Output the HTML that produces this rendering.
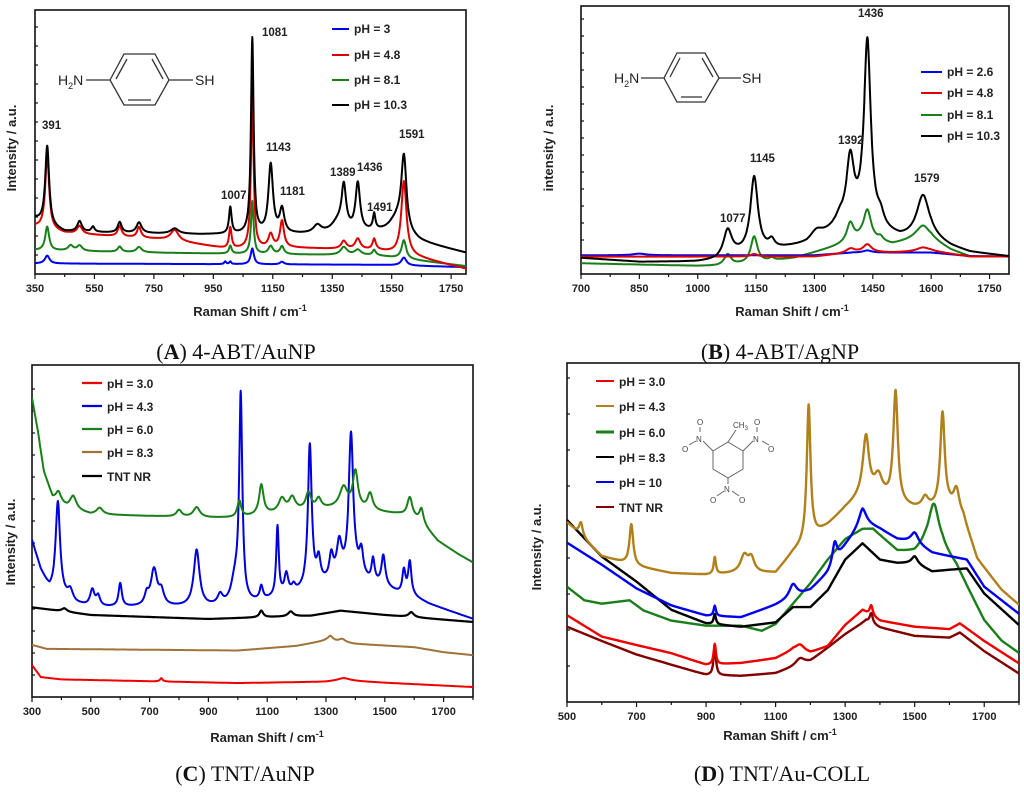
<!DOCTYPE html>
<html><head><meta charset="utf-8"><style>
html,body{margin:0;padding:0;background:#fff}
svg{display:block}
text{font-family:"Liberation Sans",sans-serif}
.tk{font-size:11px;font-weight:bold;fill:#222}
.ax{font-size:13px;font-weight:bold;fill:#222}
.lg{font-size:12px;font-weight:bold;fill:#222}
.pk{font-size:11.5px;font-weight:bold;fill:#222}
.cap{font-family:"Liberation Serif",serif;font-size:22px;fill:#111}
.mol{font-size:14px;fill:#222}
.mols{font-size:8px;fill:#444}
</style></head><body>
<svg id="fig" width="1024" height="794" viewBox="0 0 1024 794" xmlns="http://www.w3.org/2000/svg">
<defs>
<clipPath id="cA"><rect x="35" y="10" width="431" height="264"/></clipPath>
<clipPath id="cB"><rect x="581" y="6" width="428" height="268"/></clipPath>
<clipPath id="cC"><rect x="32" y="365" width="441" height="332"/></clipPath>
<clipPath id="cD"><rect x="567" y="363" width="452" height="339"/></clipPath>
</defs>
<g id="layer"></g>

<g>
<line x1="332" y1="29" x2="349" y2="29" stroke="#0000ee" stroke-width="2"/><text class="lg" x="354" y="33">pH = 3</text>
<line x1="332" y1="55" x2="349" y2="55" stroke="#dd0000" stroke-width="2"/><text class="lg" x="354" y="59">pH = 4.8</text>
<line x1="332" y1="80" x2="349" y2="80" stroke="#1a7f1a" stroke-width="2"/><text class="lg" x="354" y="84">pH = 8.1</text>
<line x1="332" y1="105" x2="349" y2="105" stroke="#000" stroke-width="2"/><text class="lg" x="354" y="109">pH = 10.3</text>
</g>
<g>
<text class="pk" x="42" y="129">391</text><text class="pk" x="262" y="36">1081</text>
<text class="pk" x="266" y="151">1143</text><text class="pk" x="280" y="195">1181</text>
<text class="pk" x="221" y="199">1007</text><text class="pk" x="330" y="176">1389</text>
<text class="pk" x="357" y="171">1436</text><text class="pk" x="367" y="211">1491</text>
<text class="pk" x="399" y="138">1591</text>
</g>
<g stroke="#333" stroke-width="1.3" fill="none">
<polygon points="110,80 124,54 155,54 169,80 155,105 124,105"/>
<line x1="116" y1="79" x2="127" y2="59"/><line x1="152" y1="59" x2="163" y2="79"/><line x1="128" y1="100" x2="151" y2="100"/>
<line x1="86" y1="80" x2="110" y2="80"/><line x1="169" y1="80" x2="193" y2="80"/>
<text class="mol" x="58" y="85" stroke="none" fill="#222">H<tspan font-size="9" dy="4">2</tspan><tspan dy="-4">N</tspan></text>
<text class="mol" x="195" y="85" stroke="none" fill="#222">SH</text>
</g>
<text class="ax" transform="translate(16,148) rotate(-90)" text-anchor="middle">Intensity / a.u.</text>
<text class="ax" x="250" y="316" text-anchor="middle">Raman Shift / cm<tspan font-size="9" dy="-5">-1</tspan></text>
<text class="cap" x="236" y="359" text-anchor="middle">(<tspan font-weight="bold">A</tspan>) 4-ABT/AuNP</text>

<g>
<line x1="921" y1="72" x2="942" y2="72" stroke="#0000ee" stroke-width="2"/><text class="lg" x="947" y="76">pH = 2.6</text>
<line x1="921" y1="93" x2="942" y2="93" stroke="#dd0000" stroke-width="2"/><text class="lg" x="947" y="97">pH = 4.8</text>
<line x1="921" y1="115" x2="942" y2="115" stroke="#1a7f1a" stroke-width="2"/><text class="lg" x="947" y="119">pH = 8.1</text>
<line x1="921" y1="136" x2="942" y2="136" stroke="#000" stroke-width="2"/><text class="lg" x="947" y="140">pH = 10.3</text>
</g>
<g>
<text class="pk" x="720" y="222">1077</text><text class="pk" x="750" y="162">1145</text>
<text class="pk" x="838" y="144">1392</text><text class="pk" x="858" y="17">1436</text>
<text class="pk" x="914" y="182">1579</text>
</g>
<g stroke="#333" stroke-width="1.3" fill="none">
<polygon points="664,78 677,53 705,53 719,78 705,102 677,102"/>
<line x1="670" y1="77" x2="680" y2="58"/><line x1="702" y1="58" x2="713" y2="77"/><line x1="681" y1="97" x2="702" y2="97"/>
<line x1="641" y1="78" x2="664" y2="78"/><line x1="719" y1="78" x2="741" y2="78"/>
<text class="mol" x="614" y="83" stroke="none" fill="#222">H<tspan font-size="9" dy="4">2</tspan><tspan dy="-4">N</tspan></text>
<text class="mol" x="742" y="83" stroke="none" fill="#222">SH</text>
</g>
<text class="ax" transform="translate(553,148) rotate(-90)" text-anchor="middle">intensity / a.u.</text>
<text class="ax" x="792" y="316" text-anchor="middle">Raman Shift / cm<tspan font-size="9" dy="-5">-1</tspan></text>
<text class="cap" x="780" y="359" text-anchor="middle">(<tspan font-weight="bold">B</tspan>) 4-ABT/AgNP</text>

<g>
<line x1="82" y1="383" x2="102" y2="383" stroke="#ee0000" stroke-width="2.2"/><text class="lg" font-size="13" x="107" y="388">pH = 3.0</text>
<line x1="82" y1="406" x2="102" y2="406" stroke="#0000dd" stroke-width="2.2"/><text class="lg" x="107" y="411" font-size="13">pH = 4.3</text>
<line x1="82" y1="429" x2="102" y2="429" stroke="#1a7f1a" stroke-width="2.2"/><text class="lg" x="107" y="434" font-size="13">pH = 6.0</text>
<line x1="82" y1="452" x2="102" y2="452" stroke="#a0723c" stroke-width="2.2"/><text class="lg" x="107" y="457" font-size="13">pH = 8.3</text>
<line x1="82" y1="476" x2="102" y2="476" stroke="#000" stroke-width="2.2"/><text class="lg" x="107" y="481" font-size="13">TNT NR</text>
</g>
<text class="ax" transform="translate(15,542) rotate(-90)" text-anchor="middle" font-size="14">Intensity / a.u.</text>
<text class="ax" x="267" y="742" text-anchor="middle">Raman Shift / cm<tspan font-size="9" dy="-5">-1</tspan></text>
<text class="cap" x="245" y="781" text-anchor="middle">(<tspan font-weight="bold">C</tspan>) TNT/AuNP</text>

<g>
<line x1="596" y1="381" x2="614" y2="381" stroke="#ee0000" stroke-width="2"/><text class="lg" x="619" y="386" font-size="13">pH = 3.0</text>
<line x1="596" y1="406" x2="614" y2="406" stroke="#b0801c" stroke-width="2"/><text class="lg" x="619" y="411" font-size="13">pH = 4.3</text>
<line x1="596" y1="432" x2="614" y2="432" stroke="#1a7f1a" stroke-width="3"/><text class="lg" x="619" y="437" font-size="13">pH = 6.0</text>
<line x1="596" y1="457" x2="614" y2="457" stroke="#000" stroke-width="2"/><text class="lg" x="619" y="462" font-size="13">pH = 8.3</text>
<line x1="596" y1="482" x2="614" y2="482" stroke="#0000ee" stroke-width="2"/><text class="lg" x="619" y="487" font-size="13">pH = 10</text>
<line x1="596" y1="507" x2="614" y2="507" stroke="#800000" stroke-width="2"/><text class="lg" x="619" y="512" font-size="13">TNT NR</text>
</g>
<g stroke="#666" stroke-width="1" fill="none">
<polygon points="728,442 743,451 743,469 728,478 713,469 713,451"/>
<line x1="728" y1="442" x2="736" y2="430"/>
<line x1="713" y1="451" x2="703" y2="441"/><line x1="743" y1="451" x2="753" y2="441"/><line x1="728" y1="478" x2="728" y2="484"/>
<line x1="700" y1="432" x2="700" y2="427"/><line x1="696" y1="441" x2="689" y2="445"/>
<line x1="757" y1="432" x2="757" y2="427"/><line x1="762" y1="441" x2="769" y2="445"/>
<line x1="724" y1="491" x2="717" y2="496"/><line x1="732" y1="491" x2="739" y2="496"/>
<g stroke="none" fill="#444">
<text x="696" y="442" class="mols" font-size="9">N</text><text x="753" y="442" class="mols" font-size="9">N</text><text x="724" y="492" class="mols" font-size="9">N</text>
<text x="697" y="425" class="mols" font-size="9">O</text><text x="682" y="452" class="mols" font-size="9">O</text>
<text x="754" y="425" class="mols" font-size="9">O</text><text x="768" y="452" class="mols" font-size="9">O</text>
<text x="710" y="503" class="mols" font-size="9">O</text><text x="739" y="503" class="mols" font-size="9">O</text>
<text x="733" y="428" class="mols" font-size="9">CH<tspan font-size="6" dy="2">3</tspan></text>
</g>
</g>
<text class="ax" transform="translate(541,547) rotate(-90)" text-anchor="middle" font-size="14">Intensity / a.u.</text>
<text class="ax" x="780" y="740" text-anchor="middle">Raman Shift / cm<tspan font-size="9" dy="-5">-1</tspan></text>
<text class="cap" x="782" y="781" text-anchor="middle">(<tspan font-weight="bold">D</tspan>) TNT/Au-COLL</text>
</svg>
<script>
// Panel A
const aBlueBase=[[350,4],[1500,3.5],[1800,2.6]];
const aBluePeaks=[[391,3,7],[990,1,3],[1007,1,3],[1081,6,5],[1181,1,6],[1591,3,8]];
const aRedBase=[[350,18],[450,15.5],[800,13],[1000,9.5],[1200,10],[1500,9],[1650,6],[1800,2]];
const aRedPeaks=[[391,28,6],[500,3,8],[635,4,6],[700,4,6],[820,4,12],[1007,8,4],[1081,58,4],[1143,5,7],[1181,10,6],[1389,3,8],[1436,4,8],[1491,4,5],[1591,28,8]];
const aGreenBase=[[350,9],[800,8],[1500,7],[1650,5],[1800,3]];
const aGreenPeaks=[[391,9,6],[470,2,8],[500,2,8],[635,2,6],[700,2,8],[1007,3,4],[1081,20,4],[1143,3,7],[1181,3,6],[1389,3,10],[1436,2,10],[1491,2,5],[1591,7,7]];
const aBlackBase=[[350,21],[400,18],[450,16],[900,15],[1300,15],[1550,16],[1650,12],[1800,8]];
const aBlackPeaks=[[391,30,6],[500,4,7],[545,2,5],[635,4,6],[700,4,8],[820,2,12],[1007,10,4],[1081,74,4],[1143,26,7],[1181,9,7],[1300,3,12],[1370,4,20],[1389,16,7],[1436,18,7],[1491,6,4],[1591,28,8],[1570,5,20]];
// Panel B
const bBlueBase=[[700,7],[1300,7],[1400,8],[1600,8],[1700,6.7],[1800,6.5]];
const bBluePeaks=[[850,0.6,15],[1436,0.8,10]];
const bRedBase=[[700,6.5],[1300,6.5],[1400,8],[1500,8],[1600,8.5],[1700,6.5],[1800,6.5]];
const bRedPeaks=[[1145,1,8],[1392,1.5,10],[1436,3,10],[1579,1.5,15]];
const bGreenBase=[[700,4],[1000,3],[1050,3],[1150,4],[1250,6],[1300,8],[1350,10],[1420,13],[1500,11],[1560,13],[1600,13],[1650,9],[1700,6.5],[1800,6.5]];
const bGreenPeaks=[[1077,4,8],[1145,10,8],[1190,1,6],[1392,7,8],[1436,11,9],[1470,1.5,6],[1579,5,15]];
const bBlackBase=[[700,6],[850,4.5],[1000,4.5],[1050,5],[1100,7],[1200,9],[1280,11],[1350,16],[1420,19],[1480,15],[1520,13],[1600,13],[1650,10],[1700,8],[1800,6.5]];
const bBlackPeaks=[[1077,10,10],[1145,28,9],[1190,3,7],[1305,3,14],[1365,3,10],[1392,24,9],[1436,68,8],[1470,4,8],[1579,16,15]];
// Panel C
const cRedBase=[[300,9.6],[330,6],[400,5.3],[1000,4.2],[1300,4.6],[1360,5],[1500,4.3],[1800,3]];
const cRedPeaks=[[740,1,4],[1360,0.7,20]];
const cBrownBase=[[300,15.7],[350,14.5],[1000,14],[1200,15.4],[1300,17],[1400,16],[1600,15],[1700,13.5],[1800,12.6]];
const cBrownPeaks=[[1315,1.5,8],[1355,1,10]];
const cBlackBase=[[300,27],[500,24.7],[900,23.5],[1250,24.5],[1350,26],[1500,24.7],[1800,22.6]];
const cBlackPeaks=[[410,1,8],[1080,2,6],[1180,1.5,8],[1590,1.5,8]];
const cBlueBase=[[300,47],[330,38],[360,32],[450,28],[500,27],[1000,27],[1100,29],[1200,31],[1300,34],[1400,37],[1450,34],[1500,33],[1550,31],[1600,30],[1650,28],[1800,23.5]];
const cBluePeaks=[[388,28,7],[430,3,8],[505,5,7],[525,3,6],[600,7,5],[690,3,6],[715,11,10],[740,4,8],[860,17,9],[940,3,8],[990,7,12],[1010,62,5],[1080,4,5],[1135,21,4],[1165,6,6],[1190,2,6],[1245,43,6],[1275,7,6],[1318,7,6],[1345,10,8],[1385,42,7],[1420,7,6],[1460,7,5],[1495,9,6],[1565,7,5],[1585,10,5]];
const cGreenBase=[[300,90],[320,80],[340,68],[370,60],[420,57],[500,55],[900,54],[1000,54],[1100,55],[1200,56],[1350,57],[1450,56],[1550,55],[1620,53],[1680,47],[1750,43],[1800,40.5]];
const cGreenPeaks=[[390,3,8],[440,4,10],[530,2,10],[800,2,8],[860,3,10],[1005,5,6],[1080,9,7],[1150,4,10],[1185,4,10],[1240,5,8],[1275,3,8],[1360,6,12],[1400,11,8],[1450,5,8],[1585,6,8],[1625,4,6]];
// Panel D
const dDarkRedBase=[[500,22.2],[600,18],[700,14],[800,11],[900,8],[1000,7.7],[1100,8.5],[1200,12],[1300,20],[1360,24],[1400,22],[1500,19.5],[1600,19],[1630,20.5],[1700,15],[1800,8.4]];
const dDarkRedPeaks=[[925,9,3],[1170,2,12],[1375,3,4]];
const dRedBase=[[500,25.6],[600,19.3],[700,16.8],[800,14.4],[900,11],[1000,11.5],[1100,12.9],[1150,15.3],[1200,14.5],[1250,16.5],[1300,22.7],[1350,27.1],[1400,24],[1500,22.2],[1600,21.5],[1630,23.2],[1700,18],[1800,11.4]];
const dRedPeaks=[[925,6,3],[1170,2,12],[1375,3,4]];
const dGreenBase=[[500,34],[550,30],[600,29],[680,30],[720,27],[800,24],[900,22.5],[1000,22.5],[1060,21],[1100,23],[1150,29],[1200,35],[1250,42],[1300,48],[1350,51],[1380,51],[1450,44.5],[1500,44],[1530,46],[1580,45],[1620,40],[1650,34],[1700,24],[1750,18],[1800,14.4]];
const dGreenPeaks=[[1555,13,14]];
const dBlackBase=[[500,53.7],[600,42.9],[700,35.5],[800,27.2],[900,23.2],[1000,22.2],[1100,23.5],[1150,28],[1200,28],[1250,33],[1300,42],[1350,46.8],[1400,42],[1450,41],[1500,41],[1550,38.5],[1600,39],[1650,39.4],[1700,32],[1800,22.7]];
const dBlackPeaks=[[925,3,3],[1500,2,8]];
const dBlueBase=[[500,47],[600,40.5],[700,33.5],[800,28.5],[900,25.5],[1000,25],[1100,28.6],[1200,33],[1250,38],[1300,46],[1350,53],[1400,51],[1450,48],[1500,47],[1550,44],[1600,43],[1650,42],[1700,34],[1800,26]];
const dBluePeaks=[[925,3,3],[1150,4,10],[1270,6,6],[1350,4,10],[1500,3,10]];
const dGoldBase=[[500,53],[550,48],[600,43],[700,40],[800,38],[900,37.5],[1000,38],[1100,38],[1150,44],[1200,48],[1250,52],[1300,57],[1350,61],[1400,61],[1450,58],[1500,57],[1550,57],[1600,57],[1640,54],[1680,42],[1750,33],[1800,28.6]];
const dGoldPeaks=[[540,4,5],[685,12,5],[925,5,3],[1010,5,10],[1030,4,8],[1195,40,5],[1360,17,8],[1395,5,10],[1445,33,6],[1530,3,8],[1580,28,6],[1620,7,8]];
// tick labels
const aTicks=[350,550,750,950,1150,1350,1550,1750];
const bTicks=[700,850,1000,1150,1300,1450,1600,1750];
const cTicks=[300,500,700,900,1100,1300,1500,1700];
const dTicks=[500,700,900,1100,1300,1500,1700];

const NS="http://www.w3.org/2000/svg";
const layer=document.getElementById('layer');
function mk(tag,attrs,parent){const e=document.createElementNS(NS,tag);for(const k in attrs)e.setAttribute(k,attrs[k]);(parent||layer).appendChild(e);return e;}
function interp(base,x){
  if(x<=base[0][0])return base[0][1];
  for(let i=1;i<base.length;i++){if(x<=base[i][0]){const a=base[i-1],b=base[i];return a[1]+(b[1]-a[1])*(x-a[0])/(b[0]-a[0]);}}
  return base[base.length-1][1];
}
function panel(P){
  P.sx=v=>P.x0+(v-P.xmin)/(P.xmax-P.xmin)*(P.x1-P.x0);
  P.sy=v=>P.y1-(v/100)*(P.y1-P.y0);
  return P;
}
const PA=panel({x0:35,x1:466,y0:10,y1:274,xmin:350,xmax:1800,clip:'cA'});
const PB=panel({x0:581,x1:1009,y0:6,y1:274,xmin:700,xmax:1800,clip:'cB'});
const PC=panel({x0:32,x1:473,y0:365,y1:697,xmin:300,xmax:1800,clip:'cC'});
const PD=panel({x0:567,x1:1019,y0:363,y1:702,xmin:500,xmax:1800,clip:'cD'});
const WF=1.3;
function series(P,base,peaks,color,w,name){
  let d='';
  for(let x=P.xmin;x<=P.xmax;x+=1){
    let y=interp(base,x);
    for(const p of peaks){y+=p[1]/(1+((x-p[0])/(p[2]*WF))**2);}
    d+=(x===P.xmin?'M':'L')+P.sx(x).toFixed(1)+' '+P.sy(y).toFixed(1);
  }
  const e=mk('path',{d:d,fill:'none',stroke:color,'stroke-width':w,'clip-path':'url(#'+P.clip+')','stroke-linejoin':'round'});
  
  
}
function axes(P,ticks,minorStep,yStep,name){
  const f=mk('rect',{x:P.x0,y:P.y0,width:P.x1-P.x0,height:P.y1-P.y0,fill:'none',stroke:'#111','stroke-width':1.6});
  
  
  for(let v=P.xmin;v<=P.xmax;v+=minorStep){
    const major=ticks.indexOf(v)>=0;
    const t=mk('line',{x1:P.sx(v),x2:P.sx(v),y1:P.y1,y2:P.y1+(major?5:3),stroke:'#111','stroke-width':1.2});
    
    
  }
  for(const v of ticks){
    const l=mk('text',{x:P.sx(v),y:P.y1+18,'text-anchor':'middle',class:'tk'});
    l.textContent=v;
    
    
  }
  for(let y=P.y1-yStep;y>P.y0+2;y-=yStep){
    const t=mk('line',{x1:P.x0,x2:P.x0+3,y1:y,y2:y,stroke:'#111','stroke-width':1.2});
    
    
  }
}
axes(PA,aTicks,100,19,'panel-a');
axes(PB,bTicks,75,17,'panel-b');
axes(PC,cTicks,100,22,'panel-c');
axes(PD,dTicks,100,36,'panel-d');

series(PA,aBlueBase,aBluePeaks,'#0000ee',2,'a-series-ph3');
series(PA,aGreenBase,aGreenPeaks,'#1a7f1a',2,'a-series-ph8-1');
series(PA,aRedBase,aRedPeaks,'#dd0000',2,'a-series-ph4-8');
series(PA,aBlackBase,aBlackPeaks,'#000',2,'a-series-ph10-3');

series(PB,bGreenBase,bGreenPeaks,'#1a7f1a',2,'b-series-ph8-1');
series(PB,bBlueBase,bBluePeaks,'#0000ee',2,'b-series-ph2-6');
series(PB,bRedBase,bRedPeaks,'#dd0000',2,'b-series-ph4-8');
series(PB,bBlackBase,bBlackPeaks,'#000',2,'b-series-ph10-3');

series(PC,cRedBase,cRedPeaks,'#ee0000',2,'c-series-ph3-0');
series(PC,cBrownBase,cBrownPeaks,'#a0723c',2,'c-series-ph8-3');
series(PC,cBlackBase,cBlackPeaks,'#000',2.2,'c-series-tnt-nr');
series(PC,cBlueBase,cBluePeaks,'#0000dd',2,'c-series-ph4-3');
series(PC,cGreenBase,cGreenPeaks,'#1a7f1a',2,'c-series-ph6-0');

series(PD,dDarkRedBase,dDarkRedPeaks,'#800000',2.4,'d-series-tnt-nr');
series(PD,dRedBase,dRedPeaks,'#ee0000',2.4,'d-series-ph3-0');
series(PD,dGreenBase,dGreenPeaks,'#1a7f1a',2.4,'d-series-ph6-0');
series(PD,dBlackBase,dBlackPeaks,'#000',2.4,'d-series-ph8-3');
series(PD,dBlueBase,dBluePeaks,'#0000ee',2.4,'d-series-ph10');
series(PD,dGoldBase,dGoldPeaks,'#b0801c',2.4,'d-series-ph4-3');
</script>
</body></html>
